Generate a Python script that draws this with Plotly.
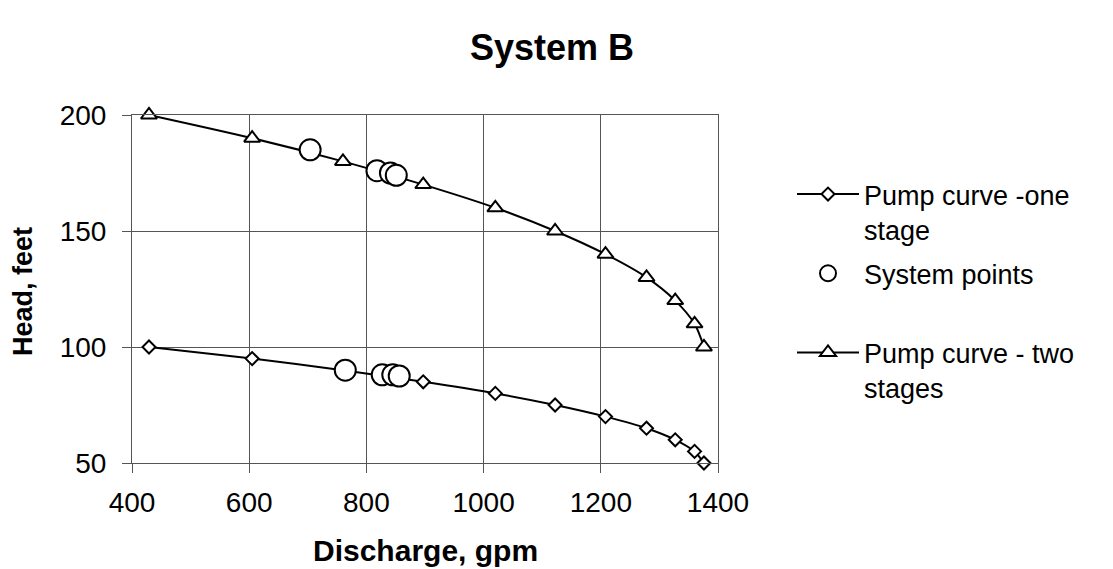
import plotly.graph_objects as go

# Data
discharge = [429, 605, 760, 897, 1020, 1122, 1208, 1278, 1327, 1360, 1376]
head_one_stage = [100, 95, 90, 85, 80, 75, 70, 65, 60, 55, 50]
head_two_stage = [200, 190, 180, 170, 160, 150, 140, 130, 120, 110, 100]

system_q = [704, 818, 841, 851, 764, 827, 845, 856]
system_h = [185, 176, 175, 174, 90, 88, 88, 87.5]

x_ticks = [400, 600, 800, 1000, 1200, 1400]
y_ticks = [50, 100, 150, 200]

FONT = "Liberation Sans, Arial, sans-serif"

fig = go.Figure()

fig.add_trace(go.Scatter(
    x=discharge, y=head_one_stage, mode="lines+markers",
    name="Pump curve -one<br>stage", legendgroup="a", legendrank=1,
    line=dict(color="black", width=2, shape="spline", smoothing=0.8),
    marker=dict(symbol="diamond", size=10, color="white",
                line=dict(color="black", width=2)),
    cliponaxis=False,
))
fig.add_trace(go.Scatter(
    x=discharge, y=head_two_stage, mode="lines+markers",
    name="Pump curve - two<br>stages", legendgroup="c", legendrank=3,
    line=dict(color="black", width=2, shape="spline", smoothing=0.8),
    marker=dict(symbol="triangle-up", size=14, color="white",
                line=dict(color="black", width=2)),
    cliponaxis=False,
))
fig.add_trace(go.Scatter(
    x=system_q, y=system_h, mode="markers",
    name="System points<br> ", legendgroup="b", legendrank=2,
    marker=dict(symbol="circle", size=21, color="white",
                line=dict(color="black", width=2)),
    cliponaxis=False,
))

fig.update_layout(
    width=1113, height=569,
    margin=dict(l=132, r=395, t=115, b=106),
    paper_bgcolor="white", plot_bgcolor="white",
    font=dict(family=FONT, color="black"),
    title=dict(text="<b>System B</b>", x=552/1113, xanchor="center",
               y=1-47/569, yanchor="middle", font=dict(size=36, family=FONT)),
    showlegend=True,
    legend=dict(x=(792-132)/586, xanchor="left", y=(463-170)/348, yanchor="top",
                font=dict(size=27, family=FONT), valign="top",
                traceorder="grouped", tracegroupgap=6, itemwidth=62,
                bgcolor="rgba(0,0,0,0)"),
)

fig.update_xaxes(
    range=[400, 1400], tickvals=x_ticks, ticktext=[str(v) for v in x_ticks],
    showgrid=True, gridcolor="#555555", gridwidth=1,
    showline=True, linecolor="#555555", linewidth=1, mirror=True,
    ticks="outside", ticklen=9, tickcolor="#555555",
    tickfont=dict(size=28, family=FONT), ticklabelstandoff=5, zeroline=False,
)
fig.update_yaxes(
    range=[50, 200], tickvals=y_ticks, ticktext=[str(v) for v in y_ticks],
    showgrid=True, gridcolor="#555555", gridwidth=1,
    showline=True, linecolor="#555555", linewidth=1, mirror=True,
    ticks="outside", ticklen=9, tickcolor="#555555",
    tickfont=dict(size=28, family=FONT), ticklabelstandoff=10, zeroline=False,
)

fig.add_annotation(text="<b>Head, feet</b>", xref="paper", yref="paper",
                   x=(23-132)/586, y=(463-292)/348, textangle=-90,
                   showarrow=False, font=dict(size=27, family=FONT),
                   xanchor="center", yanchor="middle")
fig.add_annotation(text="<b>Discharge, gpm</b>", xref="paper", yref="paper",
                   x=(425-132)/586, y=(463-550)/348,
                   showarrow=False, font=dict(size=30, family=FONT),
                   xanchor="center", yanchor="middle")

fig.write_html("out.html", config={"displayModeBar": False},
               post_script="document.body.style.margin='0';")
